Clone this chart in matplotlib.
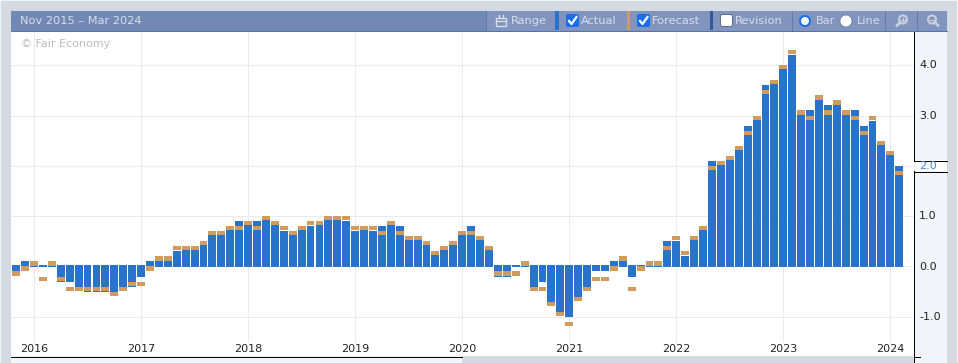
import matplotlib
matplotlib.use("Agg")
import matplotlib.pyplot as plt
import matplotlib.patches as patches
import numpy as np

# months counted from Jan 2016, first bar is Nov 2015
actual = [-0.1, 0.1, 0.1, 0.0, 0.0, -0.3, -0.3, -0.4, -0.5, -0.5, -0.5, -0.5, -0.4, -0.4, -0.2,
          0.1, 0.2, 0.2, 0.3, 0.4, 0.4, 0.5, 0.7, 0.7, 0.8, 0.9,
          0.9, 0.9, 1.0, 0.9, 0.7, 0.7, 0.8, 0.8, 0.9, 1.0, 1.0, 0.9,
          0.7, 0.8, 0.7, 0.8, 0.9, 0.8, 0.6, 0.6, 0.5, 0.3, 0.4, 0.5,
          0.7, 0.8, 0.6, 0.4, -0.2, -0.2, 0.0, 0.0, -0.4, -0.3, -0.7, -0.9,
          -1.0, -0.6, -0.4, -0.1, -0.1, 0.1, 0.2, -0.2, 0.0, 0.1, 0.1, 0.5,
          0.5, 0.2, 0.6, 0.8, 2.1, 2.1, 2.2, 2.4, 2.8, 3.0, 3.6, 3.7,
          4.0, 4.2, 3.1, 3.1, 3.4, 3.2, 3.3, 3.1, 3.1, 2.8, 2.9, 2.5, 2.3, 2.0]
forecast = [-0.1, 0.0, 0.1, -0.2, 0.1, -0.2, -0.4, -0.4, -0.4, -0.4, -0.4, -0.5, -0.4, -0.3, -0.3,
            0.0, 0.2, 0.2, 0.4, 0.4, 0.4, 0.5, 0.7, 0.7, 0.8, 0.8,
            0.9, 0.8, 1.0, 0.9, 0.8, 0.7, 0.8, 0.9, 0.9, 1.0, 1.0, 1.0,
            0.8, 0.8, 0.8, 0.7, 0.9, 0.7, 0.6, 0.6, 0.5, 0.3, 0.4, 0.5,
            0.7, 0.7, 0.6, 0.4, -0.1, -0.1, -0.1, 0.1, -0.4, -0.4, -0.7, -0.9,
            -1.1, -0.6, -0.4, -0.2, -0.2, 0.0, 0.2, -0.4, 0.0, 0.1, 0.1, 0.4,
            0.6, 0.3, 0.6, 0.8, 2.0, 2.1, 2.2, 2.4, 2.7, 3.0, 3.5, 3.7,
            4.0, 4.3, 3.1, 3.0, 3.4, 3.1, 3.3, 3.1, 3.0, 2.7, 3.0, 2.5, 2.3, 1.9]
years = ["2016", "2017", "2018", "2019", "2020", "2021", "2022", "2023", "2024"]
y_ticks = [-1.0, 0.0, 1.0, 2.0, 3.0, 4.0]
date_range = "Nov 2015 – Mar 2024"

W, H = 958, 363
GRID = "#e8e9f2"
BLUE = "#2874cd"
ORANGE = "#d29b5e"
BG = "#d5d9e2"
PANEL = "#f3f4f9"
HEAD = "#7289b5"
HEAD2 = "#8094bd"
SEP = "#5f7bb0"
TXT = "#d8deea"
PX = 0.72  # one pixel line at dpi 100
BAR_W = 0.886  # leaves a one pixel gap once the edges snap

fig = plt.figure(figsize=(W / 100, H / 100), dpi=100, facecolor=BG)
ax = fig.add_axes([11 / W, (H - 356) / H, 903 / W, 325 / H], zorder=2)

months = np.arange(len(actual)) - 2
year_pos = np.arange(len(years)) * 12
actual = np.array(actual)
forecast = np.array(forecast)

ax.vlines(year_pos, -1.5, 4.68, color=GRID, lw=PX, zorder=1)
ax.hlines(y_ticks, -2.58, 98.65, color=GRID, lw=PX, zorder=1)
ax.bar(months, actual, width=BAR_W, color=BLUE, lw=0, zorder=2)
ax.bar(months, 0.04, bottom=-0.02, width=BAR_W, color=BLUE, lw=0, zorder=2)  # thin stub at zero
ax.bar(months, 0.082, bottom=forecast - 0.082, width=BAR_W, color=ORANGE, lw=0, zorder=3)

ax.set_xlim(-2.58, 98.65)
ax.set_ylim(-1.78, 4.68)
ax.set_xticks([])
ax.set_yticks([])
for s in ax.spines.values():
    s.set_visible(False)

for y, label in zip(year_pos, years):
    ax.text(y, -1.65, label, ha="center", va="center", fontsize=8, color="#222222")

# pixel overlay for the page furniture
ui = fig.add_axes([0, 0, 1, 1], zorder=1, facecolor="none")
ui.set_xlim(0, W)
ui.set_ylim(H, 0)
ui.axis("off")
top = fig.add_axes([0, 0, 1, 1], zorder=3, facecolor="none")
top.set_xlim(0, W)
top.set_ylim(H, 0)
top.axis("off")


def rect(a, x0, y0, x1, y1, color, **kw):
    a.add_patch(patches.Rectangle((x0, y0), x1 - x0, y1 - y0, facecolor=color, edgecolor="none", **kw))


rect(ui, 0, 0, W, 1, "#f2f3f6")
rect(ui, 0, 0, 1, H, "#f2f3f6")
rect(ui, 957, 0, W, H, "#f2f3f6")
rect(ui, 11, 356, 462, H, PANEL)
rect(ui, 914, 31, 947, H, PANEL)

# y axis column
top.plot([914.5, 914.5], [31, 160], color="black", lw=PX)
top.plot([914.5, 914.5], [171, H], color="black", lw=PX)
rect(top, 915, 160, 947, 171, "white")
top.plot([914, 947], [160.5, 160.5], color="black", lw=PX)
top.plot([914, 947], [171.5, 171.5], color="black", lw=PX)
top.plot([11, 462], [356.5, 356.5], color="black", lw=PX)
top.plot([914, 920], [356.5, 356.5], color="black", lw=PX)
for v in y_ticks:
    py = 266.5 - v * 50.3
    top.text(919, py, f"{v:.1f}", ha="left", va="center", fontsize=8,
             color="#4a86d8" if v == 2.0 else "#222222")

# header bar
rect(top, 11, 11, 947, 31, HEAD)
rect(top, 486, 11, 947, 31, HEAD2)
top.plot([11, 947], [30.5, 30.5], color="#4f74b3", lw=PX)
top.text(20, 21, date_range, ha="left", va="center", fontsize=8.2, color=TXT)
top.text(21, 44, "© Fair Economy", ha="left", va="center", fontsize=8, color="#bbbbbb")

for x in [486, 792, 885, 917]:
    top.plot([x + 0.5, x + 0.5], [11, 30], color=SEP, lw=PX)
rect(top, 555, 11, 559, 30, BLUE)
rect(top, 627, 11, 630, 30, ORANGE)
rect(top, 710, 11, 713, 30, "#2f5a9e")

for x, label in [(511, "Range"), (581, "Actual"), (652, "Forecast"), (735, "Revision"), (816, "Bar"), (857, "Line")]:
    top.text(x, 21, label, ha="left", va="center", fontsize=8.2, color=TXT)

# calendar icon
top.add_patch(patches.Rectangle((496.5, 17.5), 10, 8, facecolor="none", edgecolor=TXT, lw=1))
top.plot([496.5, 506.5], [20.5, 20.5], color=TXT, lw=1)
top.plot([499.5, 499.5], [15, 17], color=TXT, lw=1)
top.plot([503.5, 503.5], [15, 17], color=TXT, lw=1)

# checkboxes
for x in [566, 637]:
    top.add_patch(patches.FancyBboxPatch((x, 14), 13, 13, boxstyle="round,pad=0,rounding_size=2",
                                         facecolor="#1a6fe8", edgecolor="none"))
    top.plot([x + 3, x + 5.5, x + 10.5], [21, 24, 17], color="white", lw=1.6)
top.add_patch(patches.FancyBboxPatch((720.5, 14.5), 12, 12, boxstyle="round,pad=0,rounding_size=2",
                                     facecolor="white", edgecolor="#5f6f8f", lw=PX))

# radio buttons
top.add_patch(patches.Circle((805, 21), 5, facecolor="white", edgecolor="#1a6fe8", lw=1.4))
top.add_patch(patches.Circle((846, 21), 6, facecolor="white", edgecolor="#6f82a8", lw=0.6))

# zoom icons
for x, side in [(903, -1), (932, 1)]:
    top.add_patch(patches.Circle((x, 19.5), 4, facecolor="none", edgecolor="#c8d0e0", lw=1.5))
    top.plot([x + side * 3, x + side * 6], [22.5, 25.5], color="#c8d0e0", lw=2)
    top.plot([x - 2, x + 2], [19.5, 19.5], color="#c8d0e0", lw=1)
    if side < 0:
        top.plot([x, x], [17.5, 21.5], color="#c8d0e0", lw=1)

fig.savefig("out.png", dpi=100, facecolor=fig.get_facecolor())
